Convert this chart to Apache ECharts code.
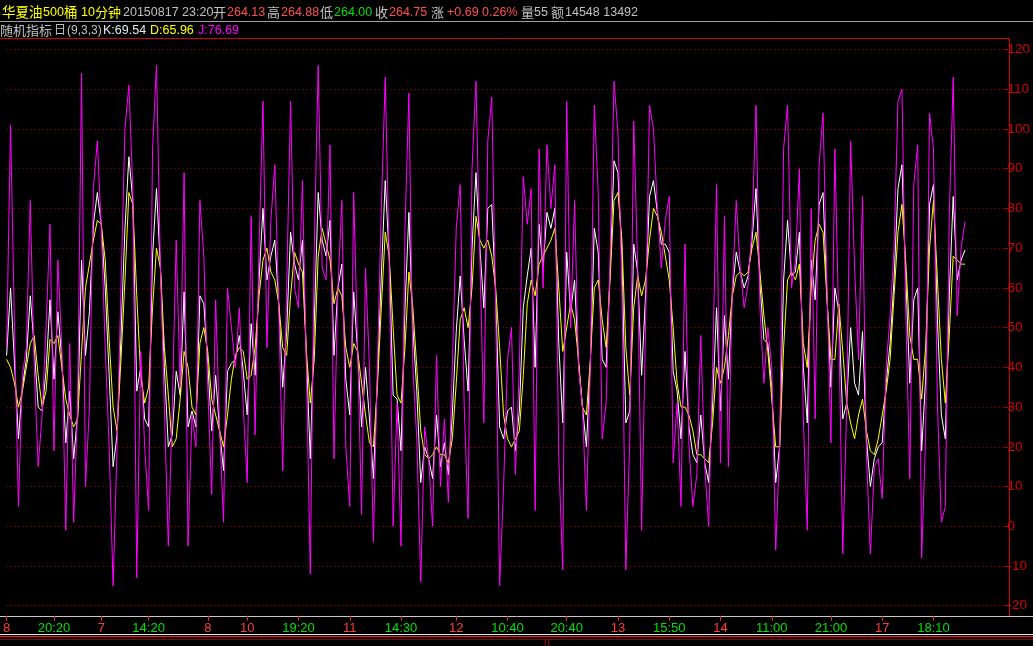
<!DOCTYPE html>
<html><head><meta charset="utf-8">
<script src="https://cdn.jsdelivr.net/npm/echarts@6/dist/echarts.min.js"></script>
<style>html,body{margin:0;padding:0;background:#000;overflow:hidden}#c{width:1033px;height:646px}</style>
</head><body><div id="c"></div>
<script>
// ---- data ----
const jValues = [45,101,50,5,38,45,82,40,15,28,
50,76,19,67,45,-1,46,1,30,114,
10,30,85,97,75,45,20,-15,20,60,
100,111,85,-13,44,20,4,95,116,65,
30,-5,30,72,35,89,-5,28,20,82,
68,35,8,57,25,1,60,50,40,55,
30,11,78,23,70,107,45,77,91,55,
14,60,107,60,55,87,40,-12,70,116,
65,62,96,17,60,82,20,5,84,45,
3,65,40,-4,40,80,113,67,0,31,
-5,75,109,40,22,-14,25,17,0,43,
10,27,6,40,75,86,31,2,90,112,
67,26,97,108,55,-15,10,42,50,13,
40,88,76,85,4,95,60,96,80,91,
17,-11,107,50,82,40,30,4,40,106,
84,22,31,67,112,99,60,-11,22,102,
65,-1,50,106,100,80,65,77,83,16,
31,5,71,20,5,13,48,15,0,40,
86,16,78,15,60,82,65,55,61,75,
106,55,36,50,40,-6,20,95,106,60,
67,90,27,-1,80,27,91,104,60,21,
95,50,-7,30,97,65,42,83,18,-7,
15,17,7,40,53,70,107,110,53,12,
86,96,-8,22,104,95,31,1,5,78,
113,53,70,76.69];
const dValues = [42,40,36,30,34,40,46,48,38,30,
34,47,46,48,40,32,28,25,27,44,
60,66,72,77,76,67,47,30,24,42,
62,84,81,58,38,31,35,55,70,65,
45,33,20,22,32,44,40,30,28,46,
50,44,32,28,24,20,28,37,43,45,
44,37,38,45,58,67,70,64,62,56,
45,43,58,69,66,64,44,31,42,68,
75,71,67,56,60,58,45,40,46,44,
36,28,21,20,35,55,74,68,50,33,
31,45,64,55,40,24,18,17,18,20,
18,18,16,22,36,52,55,50,60,78,
72,70,72,68,60,45,28,22,20,22,
24,38,56,62,58,66,68,70,72,75,
60,44,50,56,52,42,30,28,42,60,
62,52,45,62,82,84,72,45,33,55,
63,58,62,72,80,78,74,68,62,50,
36,30,30,28,24,18,18,17,16,26,
40,36,40,48,58,63,64,63,64,70,
74,64,53,44,32,20,20,45,62,64,
62,66,46,40,60,72,76,74,57,42,
42,56,44,31,26,22,28,32,24,19,
18,22,28,34,42,58,74,81,66,48,
42,42,32,45,70,82,62,42,31,48,
68,67,66,65.96];
const kValues = [43,60,41,22,35,42,58,45,30,29,
39,57,37,54,42,21,34,17,28,67,
43,54,76,84,76,60,38,15,23,48,
75,93,82,34,40,27,25,68,85,65,
40,20,23,39,33,59,25,29,25,58,
56,41,24,38,24,14,39,41,42,48,
39,28,51,38,62,80,62,68,72,56,
35,49,74,66,62,72,43,17,51,84,
72,68,77,43,60,66,37,28,59,44,
25,40,27,12,37,63,87,68,33,32,
19,55,79,50,34,11,20,17,12,28,
15,21,13,28,49,63,47,34,70,89,
70,55,80,81,58,25,22,29,30,19,
29,55,63,70,40,76,65,79,75,80,
46,26,69,54,62,41,30,20,41,75,
69,42,40,64,92,89,68,26,29,71,
64,38,58,83,87,79,71,71,69,39,
34,22,44,25,18,16,28,16,11,31,
55,29,53,37,59,69,64,60,63,72,
85,61,47,46,35,11,20,62,77,63,
64,74,40,26,67,57,81,84,58,35,
60,54,27,31,50,36,33,49,22,10,
17,20,21,36,46,62,85,91,62,36,
57,60,19,37,81,86,52,28,22,58,
83,62,67,69.54];
const tickLabels = ['8','20:20','7','14:20','8','10','19:20','11','14:30','12','10:40','20:40','13','15:50','14','11:00','21:00','17','18:10'];
const tickIndex  = [0,12,24,36,51,61,74,87,100,114,127,142,155,168,181,194,209,222,235];
const categoryCount = 254;
const yMin = -20, yMax = 120, yStep = 10;

// ---- build ----
const categories = new Array(categoryCount).fill('');
tickIndex.forEach((idx, n) => { categories[idx] = tickLabels[n]; });

const FONT = '"Liberation Sans", "Noto Sans CJK SC", sans-serif';
const hasLabel = (i, v) => v !== '';

function txt(text, x, y, fill, size) {
  return { type: 'text', silent: true, style: { text, x, y, fill, font: (size || 12.5) + 'px ' + FONT, verticalAlign: 'middle', align: 'left' } };
}
function ln(x1, y1, x2, y2, stroke) {
  return { type: 'line', silent: true, shape: { x1, y1, x2, y2 }, style: { stroke, lineWidth: 1 } };
}

const chart = echarts.init(document.getElementById('c'), null, { renderer: 'canvas' });
chart.setOption({
  backgroundColor: '#000000',
  animation: false,
  grid: { left: -2, right: 24, top: 49.5, bottom: 40.3, containLabel: false },
  xAxis: {
    type: 'category', data: categories, boundaryGap: false, offset: 10,
    axisLine: { show: false, onZero: false },
    axisTick: { show: true, interval: hasLabel, length: 5, lineStyle: { color: '#e03030' } },
    axisLabel: { interval: hasLabel, margin: 6, fontSize: 13, fontFamily: FONT,
      color: (v) => (v.indexOf(':') >= 0 ? '#00e000' : '#ff3c3c') },
    splitLine: { show: false }
  },
  yAxis: {
    type: 'value', position: 'right', min: yMin, max: yMax, interval: yStep,
    axisLine: { show: false },
    axisTick: { show: true, length: 3, lineStyle: { color: '#d00000' } },
    axisLabel: { color: '#d40000', fontSize: 13.5, fontFamily: FONT, margin: 3, padding: [6, 0, 0, 0] },
    splitLine: { show: true, lineStyle: { color: '#b40000', width: 1, type: [1, 3] } }
  },
  series: [
    { name: 'K', type: 'line', data: kValues, symbol: 'none', smooth: false, silent: true,
      lineStyle: { color: '#ffffff', width: 1 }, z: 2 },
    { name: 'D', type: 'line', data: dValues, symbol: 'none', smooth: false, silent: true,
      lineStyle: { color: '#ffff00', width: 1 }, z: 3 },
    { name: 'J', type: 'line', data: jValues, symbol: 'none', smooth: false, silent: true,
      lineStyle: { color: '#ff00ff', width: 1 }, z: 4 }
  ],
  graphic: [
    txt('华夏油', 2, 13, '#ffff00', 13.5),
    txt('500', 43, 13, '#ffff00', 12.5),
    txt('桶', 64, 13, '#ffff00', 13.5),
    txt('10', 81, 13, '#ffff00', 12.5),
    txt('分钟', 95, 13, '#ffff00', 13),
    txt('20150817 23:20', 123, 13, '#c0c0c0'),
    txt('开', 213, 13, '#c0c0c0', 13),
    txt('264.13', 227, 13, '#ff5050'),
    txt('高', 267, 13, '#c0c0c0', 13),
    txt('264.88', 281, 13, '#ff5050'),
    txt('低', 320, 13, '#c0c0c0', 13),
    txt('264.00', 334, 13, '#00e000'),
    txt('收', 375, 13, '#c0c0c0', 13),
    txt('264.75', 389, 13, '#ff5050'),
    txt('涨', 431, 13, '#c0c0c0', 13),
    txt('+0.69 0.26%', 447, 13, '#ff5050'),
    txt('量', 521, 13, '#c0c0c0', 13),
    txt('55', 534, 13, '#c0c0c0'),
    txt('额', 551, 13, '#c0c0c0', 13),
    txt('14548 13492', 565, 13, '#c0c0c0'),
    txt('随机指标', 0, 31, '#c0c0c0', 13),
    txt('日', 54, 31, '#c0c0c0', 12),
    txt('(9,3,3)', 67, 31, '#c0c0c0', 12),
    txt('K:69.54', 103, 31, '#e8e8e8'),
    txt('D:65.96', 150, 31, '#ffff00'),
    txt('J:76.69', 198, 31, '#ff00ff'),
    ln(0, 21.5, 1033, 21.5, '#a0a0a0'),
    ln(0, 38.5, 1009.5, 38.5, '#d00000'),
    ln(1009.5, 38, 1009.5, 616, '#d00000'),
    ln(0, 616.5, 1033, 616.5, '#c8c8c8'),
    ln(0, 634.5, 1033, 634.5, '#e8e8e8'),
    ln(0, 636.5, 1033, 636.5, '#ff2020'),
    ln(0, 639.5, 1033, 639.5, '#800000'),
    ln(545.5, 639, 545.5, 646, '#a00000'),
    ln(548.5, 639, 548.5, 646, '#a00000')
  ]
});
</script>
</body></html>
